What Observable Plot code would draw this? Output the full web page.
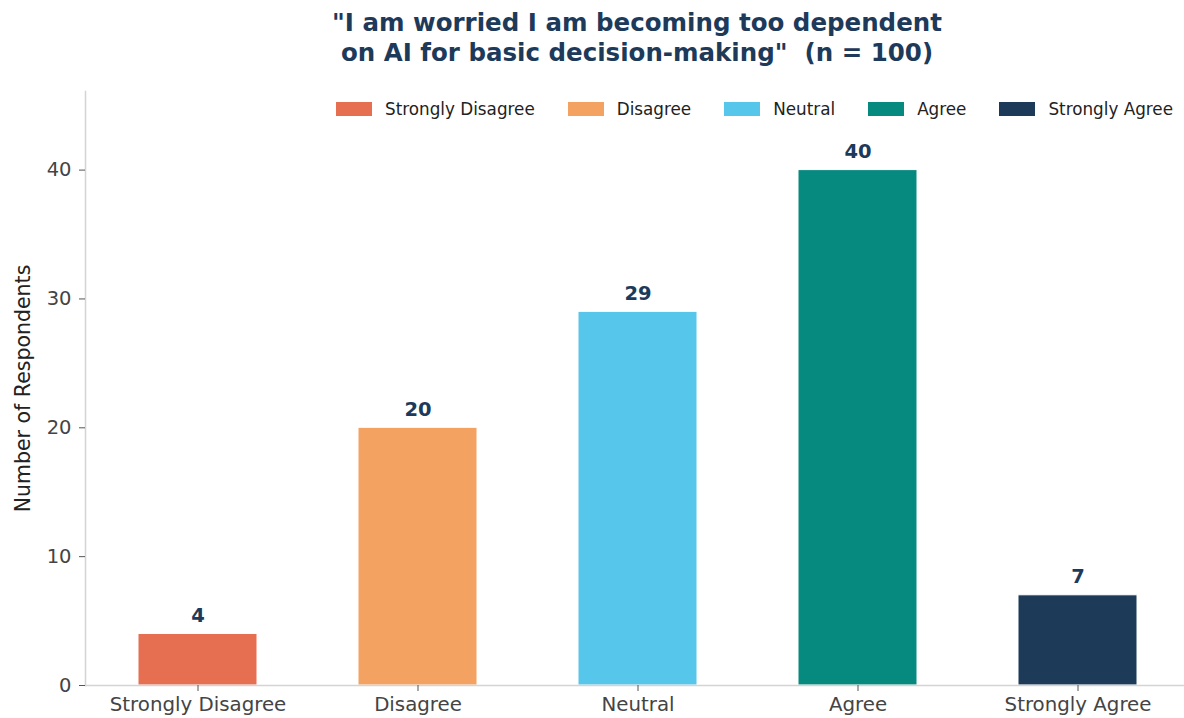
<!DOCTYPE html>
<html>
<head>
<meta charset="utf-8">
<script src="https://cdn.jsdelivr.net/npm/d3@7"></script>
<script src="https://cdn.jsdelivr.net/npm/@observablehq/plot@0.6"></script>
<style>
  body { margin: 0; background: #fff; font-family: "DejaVu Sans", sans-serif; }
  #wrap { position: relative; width: 1184px; height: 718px; }
  #title { height: 80px; box-sizing: border-box; padding-top: 8px; margin-left: 85px; width: 1104px; text-align: center;
           font-weight: bold; font-size: 24.5px; line-height: 30px; color: #1d3a5a; white-space: nowrap; }
  #legend { position: absolute; top: 99px; right: 11px; display: flex; gap: 33px; font-size: 16.8px; color: #222; }
  .item { display: flex; align-items: center; }
  .sw { width: 36px; height: 14px; margin-right: 13px; }
  g[aria-label="y-axis label"] text { fill: #222; font-size: 20.5px; }
</style>
</head>
<body>
<div id="wrap">
  <div id="title">"I am worried I am becoming too dependent<br>on AI for basic decision-making"&nbsp;&nbsp;(n = 100)</div>
  <div id="chart"></div>
  <div id="legend"></div>
</div>
<script>
const categories = ["Strongly Disagree", "Disagree", "Neutral", "Agree", "Strongly Agree"];
const counts = [4, 20, 29, 40, 7];
const colors = ["#e76f51", "#f4a261", "#56c6ea", "#06897f", "#1d3a58"];
const yTicks = [0, 10, 20, 30, 40];

const data = categories.map((c, i) => ({category: c, value: counts[i]}));

const chart = Plot.plot({
  width: 1184,
  height: 638,
  marginLeft: 85,
  marginRight: -5,
  marginTop: 11,
  marginBottom: 33,
  style: {fontFamily: "DejaVu Sans, sans-serif", background: "#fff"},
  x: {domain: categories, paddingInner: 0.46, paddingOuter: 0.233, label: null},
  y: {domain: [0, 46.1], label: null},
  color: {domain: categories, range: colors},
  marks: [
    Plot.barY(data, {x: "category", y: "value", fill: "category", stroke: "white", strokeWidth: 1}),
    Plot.text(data, {x: "category", y: "value", text: d => String(d.value), dy: -12, lineAnchor: "bottom",
      fontWeight: "bold", fontSize: 19.5, fill: "#1d3a5a"}),
    Plot.frame({anchor: "left", stroke: "#d4d4d4", strokeWidth: 1.5}),
    Plot.frame({anchor: "bottom", stroke: "#d4d4d4", strokeWidth: 1.5}),
    Plot.axisY({ticks: yTicks, tickSize: 6, tickPadding: 8, stroke: "#555", fill: "#444", fontSize: 19.5,
      label: "Number of Respondents", labelAnchor: "center", labelArrow: "none", labelOffset: 70}),
    Plot.axisX({tickSize: 6, tickPadding: 5, stroke: "#555", fill: "#444", fontSize: 19.8, label: null})
  ]
});
document.getElementById("chart").appendChild(chart);

const legend = document.getElementById("legend");
categories.forEach((c, i) => {
  const item = document.createElement("div");
  item.className = "item";
  const sw = document.createElement("div");
  sw.className = "sw";
  sw.style.background = colors[i];
  const t = document.createElement("span");
  t.textContent = c;
  item.appendChild(sw);
  item.appendChild(t);
  legend.appendChild(item);
});
</script>
</body>
</html>
